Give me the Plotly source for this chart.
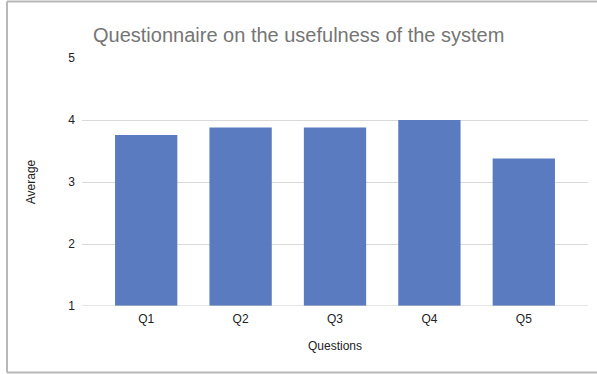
import plotly.graph_objects as go

categories = ["Q1", "Q2", "Q3", "Q4", "Q5"]
averages = [3.76, 3.88, 3.88, 4.0, 3.38]
y_ticks = [1, 2, 3, 4, 5]

W, H = 597, 374
L, R, T, B = 82, 9, 58, 68
pw, ph = W - L - R, H - T - B

def px_x(x):
    return (x - L) / pw

def px_y(y):
    return (H - B - y) / ph

fig = go.Figure(go.Bar(
    x=categories, y=averages, base=0,
    marker=dict(color="#5a7bbf", line=dict(width=0)),
))

fig.update_layout(
    width=W, height=H,
    margin=dict(l=L, r=R, t=T, b=B),
    paper_bgcolor="white", plot_bgcolor="white",
    font=dict(family="Liberation Sans, Arial, sans-serif", size=12, color="#222222"),
    title=dict(text="Questionnaire on the usefulness of the system",
               x=px_x(93), xanchor="left", xref="paper",
               y=1 - 35 / H, yanchor="middle", yref="container",
               font=dict(size=20, color="#757575")),
    bargap=0.34,
    showlegend=False,
    xaxis=dict(range=[-0.68, 4.68], showgrid=False, zeroline=False,
               showline=False, ticks="", ticklabelstandoff=4,
               title=dict(text="Questions", standoff=16,
                          font=dict(size=12, color="#222222"))),
    yaxis=dict(range=[1, 5], tickvals=y_ticks, showgrid=True,
               gridcolor="#d9d9d9", gridwidth=1, zeroline=False,
               showline=False, ticks="", ticklabelstandoff=6,
               title=dict(text="Average", standoff=30,
                          font=dict(size=12, color="#222222"))),
    shapes=[
        dict(type="line", xref="paper", yref="paper",
             x0=px_x(7), x1=px_x(W), y0=px_y(1.5), y1=px_y(1.5),
             line=dict(color="#b8b8b8", width=2)),
        dict(type="line", xref="paper", yref="paper",
             x0=px_x(7), x1=px_x(7), y0=px_y(1.5), y1=px_y(372.5),
             line=dict(color="#b8b8b8", width=2)),
        dict(type="line", xref="paper", yref="paper",
             x0=px_x(7), x1=px_x(W), y0=px_y(372.5), y1=px_y(372.5),
             line=dict(color="#b8b8b8", width=2)),
        dict(type="line", xref="paper", yref="y",
             x0=0, x1=1, y0=1, y1=1, layer="above",
             line=dict(color="#cccccc", width=1)),
    ],
)

fig.write_html("out.html")
